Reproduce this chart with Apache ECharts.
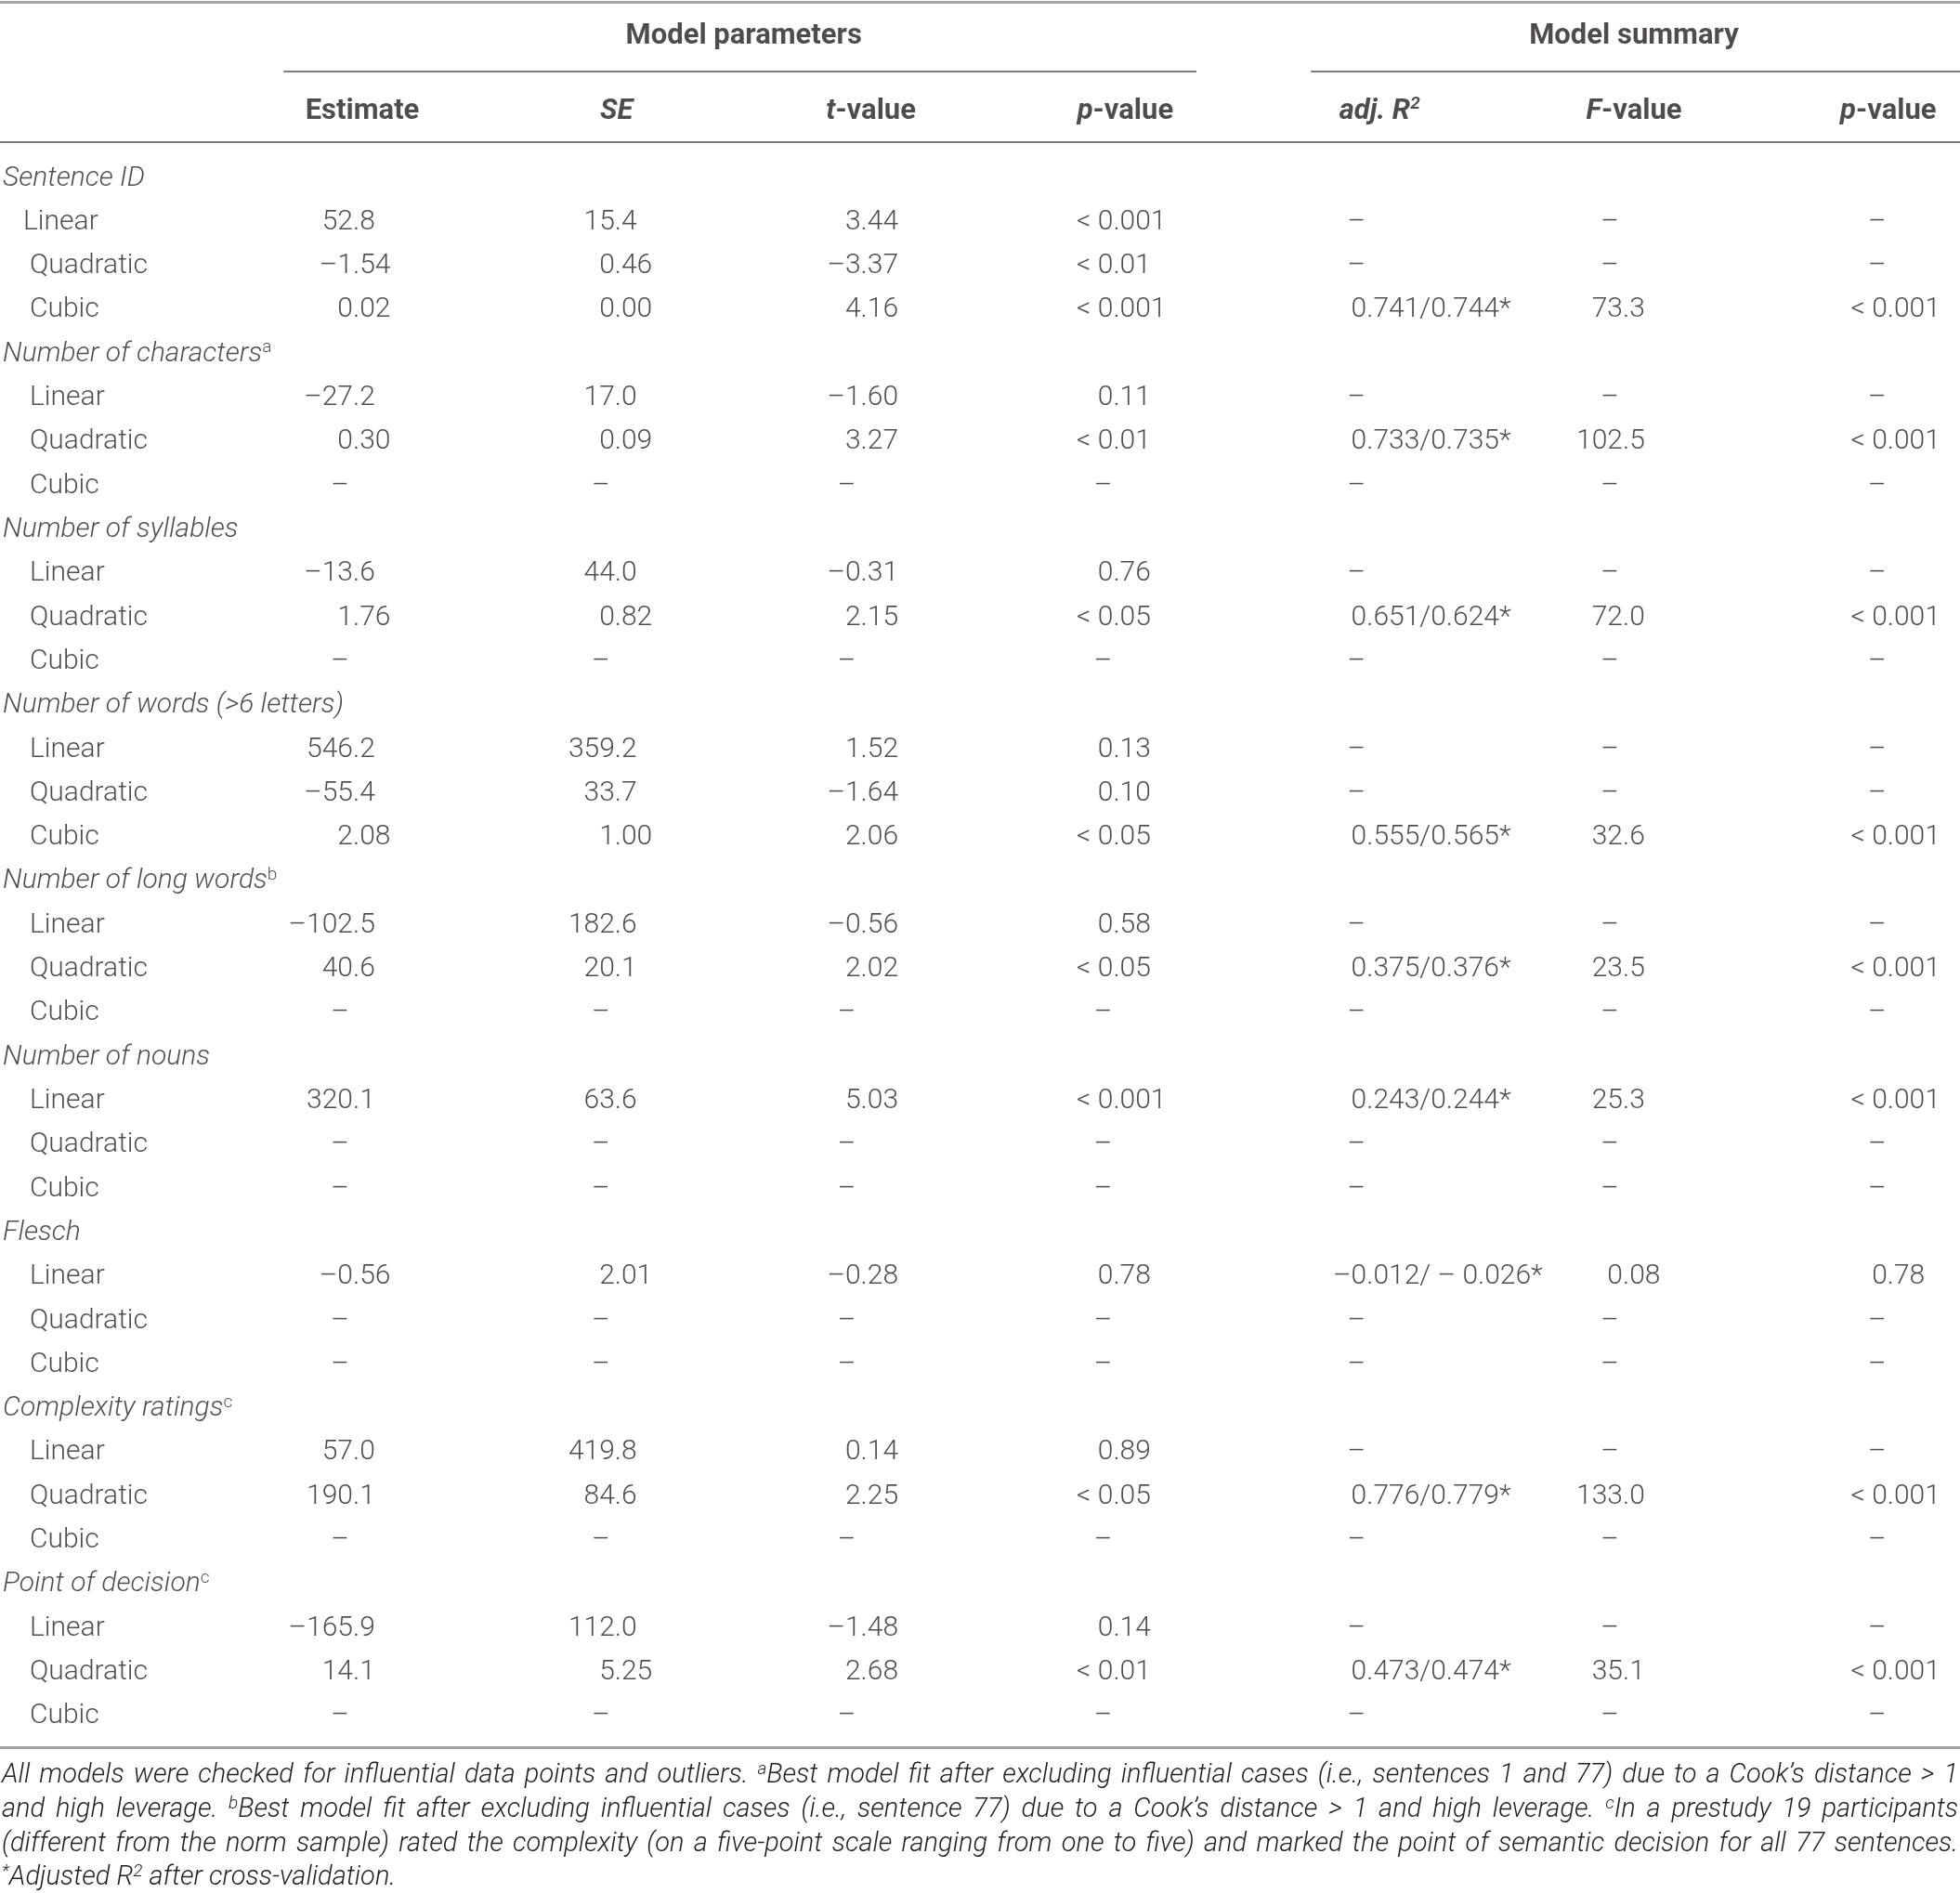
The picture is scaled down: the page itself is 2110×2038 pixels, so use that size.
<!DOCTYPE html>
<html lang="en">
<head>
    <meta charset="UTF-8">
    <title>Model parameters and model summary</title>
    <script src="https://cdn.jsdelivr.net/npm/echarts@6/dist/echarts.min.js"></script>
    <style>
        html, body { margin: 0; padding: 0; background: #fff; }
        #main { width: 2110px; height: 2038px; }
    </style>
</head>
<body>
<div id="main"></div>
<script>
    // ---- table content ----
    var groups = ['Sentence ID', 'Number of characters', 'Number of syllables', 'Number of words (>6 letters)',
        'Number of long words', 'Number of nouns', 'Flesch', 'Complexity ratings', 'Point of decision'];
    var groupNotes = ['', 'a', '', '', 'b', '', '', 'c', 'c'];
    var terms = ['Linear', 'Quadratic', 'Cubic'];

    var spanHeaders = ['Model parameters', 'Model summary'];
    var spanCols = [[0, 3], [4, 6]];
    var colHeaders = ['Estimate', 'SE', 't-value', 'p-value', 'adj. R2', 'F-value', 'p-value'];

    // one entry per term row, 3 per group
    var estimate = ['52.8', '–1.54', '0.02', '–27.2', '0.30', '–', '–13.6', '1.76', '–',
        '546.2', '–55.4', '2.08', '–102.5', '40.6', '–', '320.1', '–', '–',
        '–0.56', '–', '–', '57.0', '190.1', '–', '–165.9', '14.1', '–'];
    var se = ['15.4', '0.46', '0.00', '17.0', '0.09', '–', '44.0', '0.82', '–',
        '359.2', '33.7', '1.00', '182.6', '20.1', '–', '63.6', '–', '–',
        '2.01', '–', '–', '419.8', '84.6', '–', '112.0', '5.25', '–'];
    var tValue = ['3.44', '–3.37', '4.16', '–1.60', '3.27', '–', '–0.31', '2.15', '–',
        '1.52', '–1.64', '2.06', '–0.56', '2.02', '–', '5.03', '–', '–',
        '–0.28', '–', '–', '0.14', '2.25', '–', '–1.48', '2.68', '–'];
    var pValue = ['< 0.001', '< 0.01', '< 0.001', '0.11', '< 0.01', '–', '0.76', '< 0.05', '–',
        '0.13', '0.10', '< 0.05', '0.58', '< 0.05', '–', '< 0.001', '–', '–',
        '0.78', '–', '–', '0.89', '< 0.05', '–', '0.14', '< 0.01', '–'];
    var adjR2 = ['–', '–', '0.741/0.744*', '–', '0.733/0.735*', '–', '–', '0.651/0.624*', '–',
        '–', '–', '0.555/0.565*', '–', '0.375/0.376*', '–', '0.243/0.244*', '–', '–',
        '–0.012/ – 0.026*', '–', '–', '–', '0.776/0.779*', '–', '–', '0.473/0.474*', '–'];
    var fValue = ['–', '–', '73.3', '–', '102.5', '–', '–', '72.0', '–',
        '–', '–', '32.6', '–', '23.5', '–', '25.3', '–', '–',
        '0.08', '–', '–', '–', '133.0', '–', '–', '35.1', '–'];
    var pModel = ['–', '–', '< 0.001', '–', '< 0.001', '–', '–', '< 0.001', '–',
        '–', '–', '< 0.001', '–', '< 0.001', '–', '< 0.001', '–', '–',
        '0.78', '–', '–', '–', '< 0.001', '–', '–', '< 0.001', '–'];

    var footnoteLines = [
        'All models were checked for influential data points and outliers. {s|a}Best model fit after excluding influential cases (i.e., sentences 1 and 77) due to a Cook’s distance > 1',
        'and high leverage. {s|b}Best model fit after excluding influential cases (i.e., sentence 77) due to a Cook’s distance > 1 and high leverage. {s|c}In a prestudy 19 participants',
        '(different from the norm sample) rated the complexity (on a five-point scale ranging from one to five) and marked the point of semantic decision for all 77 sentences.',
        '{s|*}Adjusted R{s|2} after cross-validation.'
    ];

    // ---- layout ----
    var W = 2110, H = 2038;
    var ROW0 = 192, ROW_H = 47.31;      // centre of first body row, row pitch
    var COL0 = 390, COL_W = 273.8;      // centre of first value column, column pitch
    var HEAD1_Y = 39, HEAD2_Y = 120;
    var DEC_SHIFT = [-10, -2, -11, -13, -14, -12, -1];   // decimal point vs column centre
    var DASH_SHIFT = [-24, -17, -26, -24, -25, -26, -12];
    var FOOT_Y = [1912, 1949, 1986, 2022];
    var FONT = 'Roboto';
    var INK = '#231f20';
    var FS = 30, HEAD_FS = 31, SUP_FS = 19, FOOT_FS = 29, FOOT_SUP_FS = 19;

    var X_MIN = -COL0 / COL_W, X_MAX = (W - COL0) / COL_W;
    var Y_MIN = -ROW0 / ROW_H, Y_MAX = (H - ROW0) / ROW_H;
    function rowAt(py) { return (py - ROW0) / ROW_H; }

    var base = {fontFamily: FONT, fontSize: FS, fontWeight: 300, color: INK, lineHeight: 32};
    function st(extra) { return Object.assign({}, base, extra); }

    // ---- row labels ----
    var rowLabels = [];
    groups.forEach(function (g, gi) {
        rowLabels.push({text: g, note: groupNotes[gi], group: true, indent: 3});
        terms.forEach(function (t, ti) {
            rowLabels.push({text: t, group: false, indent: (gi === 0 && ti === 0) ? 25 : 32});
        });
    });

    // ---- cells ----
    var columns = [estimate, se, tValue, pValue, adjR2, fValue, pModel];
    var intItems = [], fracItems = [], dashItems = [];
    columns.forEach(function (col, c) {
        col.forEach(function (v, j) {
            var r = Math.floor(j / 3) * 4 + 1 + j % 3;
            if (v === '–') {
                dashItems.push({name: v, value: [c, r], label: {offset: [DASH_SHIFT[c], 0]}});
            } else {
                var k = v.indexOf('.');
                intItems.push({name: v.slice(0, k), value: [c, r], label: {offset: [DEC_SHIFT[c], 0]}});
                fracItems.push({name: v.slice(k), value: [c, r], label: {offset: [DEC_SHIFT[c], 0]}});
            }
        });
    });

    function headerText(h) {
        if (h === 'SE') return '{bi|SE}';
        if (h === 'adj. R2') return '{bi|adj. R}{bis|2}';
        var parts = h.split('-');
        if (parts.length === 2) return '{bi|' + parts[0] + '}{b|-' + parts[1] + '}';
        return '{b|' + h + '}';
    }

    function textSeries(items, label) {
        return {
            type: 'scatter',
            data: items,
            symbolSize: 1,
            clip: false,
            silent: true,
            itemStyle: {color: 'rgba(0,0,0,0)'},
            label: Object.assign({show: true, position: 'inside', verticalAlign: 'middle',
                formatter: function (p) { return p.name; }}, base, label)
        };
    }

    var headRich = {
        b: st({fontWeight: 'bold', fontSize: HEAD_FS, lineHeight: 34}),
        bi: st({fontWeight: 'bold', fontStyle: 'italic', fontSize: HEAD_FS, lineHeight: 34}),
        bis: st({fontWeight: 'bold', fontStyle: 'italic', fontSize: SUP_FS, lineHeight: SUP_FS, verticalAlign: 'top'})
    };

    var series = [];

    series.push(textSeries(rowLabels.map(function (d, r) {
        return {name: d.text, value: [X_MIN, r], label: {offset: [d.indent, 0]}};
    }), {
        align: 'left',
        formatter: function (p) {
            var d = rowLabels[p.dataIndex];
            if (!d.group) return '{t|' + d.text + '}';
            return '{g|' + d.text + '}' + (d.note ? '{n|' + d.note + '}' : '');
        },
        rich: {
            t: st({}),
            g: st({fontStyle: 'italic'}),
            n: st({fontSize: SUP_FS, lineHeight: SUP_FS, verticalAlign: 'top'})
        }
    }));

    series.push(textSeries(colHeaders.map(function (h, c) {
        return {name: h, value: [c, rowAt(HEAD2_Y)]};
    }), {
        align: 'center',
        formatter: function (p) { return headerText(p.name); },
        rich: headRich
    }));

    series.push(textSeries(spanHeaders.map(function (h, i) {
        return {name: h, value: [(spanCols[i][0] + spanCols[i][1]) / 2, rowAt(HEAD1_Y)]};
    }), {
        align: 'center',
        formatter: function (p) { return '{b|' + p.name + '}'; },
        rich: headRich
    }));

    series.push(textSeries(intItems, {align: 'right'}));
    series.push(textSeries(fracItems, {align: 'left'}));
    series.push(textSeries(dashItems, {align: 'center'}));

    // horizontal rules
    var ruleDark = {color: '#7d7d7d', width: 2, type: 'solid'};
    var ruleLight = {color: '#a3a3a3', width: 3, type: 'solid'};
    series.push({
        type: 'scatter',
        data: [],
        silent: true,
        markLine: {
            silent: true,
            symbol: ['none', 'none'],
            label: {show: false},
            emphasis: {disabled: true},
            animation: false,
            data: [
                {yAxis: rowAt(2), lineStyle: ruleLight},
                [{coord: [spanCols[0][0] - 0.31, rowAt(77)], lineStyle: ruleDark},
                    {coord: [spanCols[0][1] + 0.28, rowAt(77)]}],
                [{coord: [spanCols[1][0] - 0.27, rowAt(77)], lineStyle: ruleDark},
                    {coord: [X_MAX, rowAt(77)]}],
                {yAxis: rowAt(153), lineStyle: ruleDark},
                {yAxis: rowAt(1881), lineStyle: ruleLight}
            ]
        }
    });

    // ---- footnote, justified word by word ----
    var footBase = {fontFamily: FONT, fontSize: FOOT_FS, fontWeight: 300, fontStyle: 'italic'};
    var footSup = {fontFamily: FONT, fontSize: FOOT_SUP_FS, fontWeight: 300, fontStyle: 'italic'};
    var ctx = document.createElement('canvas').getContext('2d');
    function cssFont(f) { return f.fontStyle + ' ' + f.fontWeight + ' ' + f.fontSize + 'px ' + f.fontFamily; }
    function plainWidth(s, f) { ctx.font = cssFont(f); return ctx.measureText(s).width; }
    function richWidth(s) {
        var re = /\{(\w+)\|([^}]*)\}/g, w = 0, last = 0, m;
        while ((m = re.exec(s))) {
            if (m.index > last) w += plainWidth(s.slice(last, m.index), footBase);
            w += plainWidth(m[2], footSup);
            last = re.lastIndex;
        }
        if (last < s.length) w += plainWidth(s.slice(last), footBase);
        return w;
    }
    var footRich = {
        s: Object.assign({}, footSup, {fill: INK, lineHeight: FOOT_SUP_FS, verticalAlign: 'top'})
    };
    var graphics = [];
    footnoteLines.forEach(function (line, li) {
        var words = line.split(' ');
        var widths = words.map(richWidth);
        var total = widths.reduce(function (a, b) { return a + b; }, 0);
        var justify = li < footnoteLines.length - 1;
        var gap = justify ? (W - 4 - total) / (words.length - 1) : plainWidth(' ', footBase);
        var x = 2;
        words.forEach(function (wd, wi) {
            graphics.push({
                type: 'text',
                x: x,
                y: FOOT_Y[li],
                silent: true,
                style: Object.assign({}, footBase, {
                    text: wd, fill: INK, align: 'left', verticalAlign: 'middle',
                    lineHeight: 32, rich: footRich
                })
            });
            x += widths[wi] + gap;
        });
    });

    var chart = echarts.init(document.getElementById('main'));
    chart.setOption({
        animation: false,
        backgroundColor: '#fff',
        grid: {left: 0, right: 0, top: 0, bottom: 0, containLabel: false},
        xAxis: {type: 'value', min: X_MIN, max: X_MAX, show: false},
        yAxis: {type: 'value', min: Y_MIN, max: Y_MAX, inverse: true, show: false},
        series: series,
        graphic: graphics
    });
</script>
</body>
</html>
